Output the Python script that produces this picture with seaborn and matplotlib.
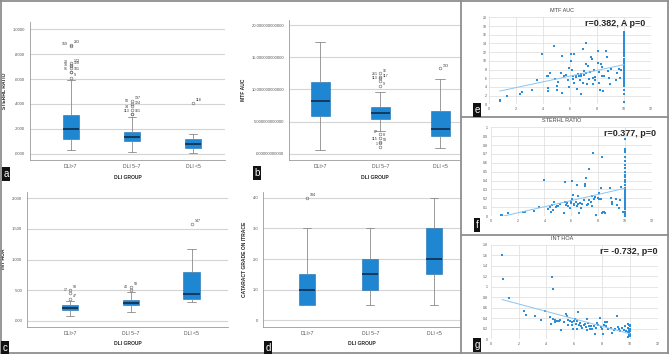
import numpy as np
import matplotlib
matplotlib.use('Agg')
import matplotlib.pyplot as plt
import seaborn as sns
from matplotlib.lines import Line2D

# tamanho em pixels
W, H = 669, 354

grupos = ['DLI>7', 'DLI 5–7', 'DLI <5']

# boxplots (q1, mediana, q3, bigode inferior, bigode superior, outliers)
strehl_q1 = [0.12, 0.104, 0.048]
strehl_med = [0.197, 0.136, 0.078]
strehl_q3 = [0.312, 0.178, 0.12]
strehl_lo = [0.03, 0.018, 0.005]
strehl_hi = [0.59, 0.294, 0.162]
strehl_out = [[(0.872, '283'), (0.862, '159'), (0.725, '172'), (0.715, '20'), (0.705, '128'),
               (0.69, '30'), (0.66, '101'), (0.655, '91'), (0.61, '9')],
              [(0.424, '137'), (0.40, '50'), (0.386, '124'), (0.355, '14'), (0.32, '161'), (0.32, '113')],
              [(0.41, '118')]]

mtf_q1 = [5.8, 5.4, 2.8]
mtf_med = [8.2, 6.3, 3.8]
mtf_q3 = [11.1, 7.2, 6.65]
mtf_lo = [0.6, 3.5, 0.9]
mtf_hi = [17.4, 9.6, 11.6]
mtf_out = [[],
           [(12.5, '16'), (12.0, '261'), (11.7, '117'), (11.3, '113'), (10.5, '9'),
            (3.0, '67'), (2.5, '8'), (1.8, '115'), (1.7, '53'), (1.1, '1')],
           [(13.3, '133')]]

hoa_q1 = [0.174, 0.25, 0.354]
hoa_med = [0.213, 0.294, 0.44]
hoa_q3 = [0.256, 0.338, 0.79]
hoa_lo = [0.07, 0.142, 0.30]
hoa_hi = [0.32, 0.47, 1.177]
hoa_out = [[(0.50, '98'), (0.45, '17'), (0.36, '47')],
           [(0.555, '58'), (0.50, '40')],
           [(1.586, '147')]]

cat_q1 = [0.5, 1.0, 1.5]
cat_med = [1.0, 1.5, 2.0]
cat_q3 = [1.5, 2.0, 3.0]
cat_lo = [0.5, 0.5, 0.5]
cat_hi = [3.0, 3.0, 4.0]
cat_out = [[(4.0, '184')], [], []]

# dispersões (DLI x variável)
e_x = [0.77, 0.79, 1.31, 2.3, 2.44, 3.14, 3.56, 3.88, 4.25, 4.37, 4.5, 4.35, 4.37, 4.81, 4.84, 5.0, 5.0, 5.1,
       5.33, 5.38, 5.4, 5.58, 5.7, 5.83, 5.9, 5.95, 6.07, 6.1, 6.17, 6.2, 6.22, 6.27, 6.32, 6.4, 6.47, 6.54,
       6.59, 6.64, 6.69, 6.74, 6.77, 6.79, 6.84, 6.99, 7.0, 6.99, 7.04, 7.14, 7.16, 7.2, 7.26, 7.36, 7.4, 7.46,
       7.56, 7.6, 7.68, 7.68, 7.75, 7.83, 7.88, 8.05, 8.07, 8.12, 8.17, 8.25, 8.3, 8.35, 8.35, 8.42, 8.54,
       8.69, 8.72, 8.79, 8.89, 8.96, 9.04, 9.41, 9.5, 9.65, 9.68, 9.78,
       10, 10, 10, 10, 10, 10, 10, 10, 10, 10, 10, 10, 10, 10, 10, 10, 10, 10, 10, 10, 10, 10, 10, 10,
       10, 10, 10, 10, 10, 10, 10, 10, 10]
e_y = [0.9, 0.75, 2.0, 2.4, 2.8, 3.3, 5.5, 11.6, 6.6, 6.6, 7.2, 3.8, 3.0, 13.3, 5.8, 3.4, 4.1, 5.1,
       7.2, 11.2, 2.6, 6.4, 6.7, 5.6, 8.3, 4.0, 11.5, 9.9, 7.8, 6.6, 5.9, 4.9, 11.5, 6.2, 6.6, 3.6,
       6.9, 6.4, 6.6, 5.5, 6.6, 6.9, 2.3, 12.6, 7.6, 4.9, 6.7, 14.0, 9.3, 7.3, 4.7, 8.7, 5.8, 7.4,
       10.9, 10.3, 6.0, 4.7, 8.0, 5.6, 6.3, 12.2, 9.6, 7.4, 4.8, 3.2, 9.3, 8.5, 6.5, 3.1, 6.6,
       12.2, 10.8, 7.6, 6.0, 4.6, 8.1, 5.5, 7.2, 8.2, 6.0, 7.8,
       0.6, 2.4, 3.3, 4.1, 4.6, 5.0, 5.4, 5.8, 6.1, 6.5, 6.9, 7.3, 7.7, 8.0, 8.4, 8.8, 9.2, 9.6, 10.0, 10.5,
       11.0, 11.5, 12.0, 12.5, 13.0, 13.4, 13.9, 14.4, 14.8, 15.3, 15.8, 16.2, 16.6]

f_x = [0.79, 0.82, 1.32, 2.38, 2.55, 3.23, 3.62, 3.97, 4.24, 4.44, 4.47, 4.54, 4.62, 4.69, 4.84, 4.94, 5.04,
       5.14, 5.48, 5.51, 5.53, 5.6, 5.68, 5.78, 5.9, 5.96, 5.98, 6.03, 6.08, 6.13, 6.18, 6.23, 6.33, 6.4,
       6.43, 6.48, 6.53, 6.58, 6.65, 6.72, 6.77, 6.95, 7.02, 7.05, 7.1, 7.15, 7.25, 7.32, 7.35, 7.44, 7.52,
       7.57, 7.64, 7.67, 7.79, 7.87, 7.97, 8.04, 8.09, 8.19, 8.24, 8.29, 8.31, 8.39, 8.46, 8.54, 8.88, 8.96,
       9.0, 9.06, 9.33, 9.43, 9.53, 9.6, 9.73, 9.85,
       10, 10, 10, 10, 10, 10, 10, 10, 10, 10, 10, 10, 10, 10, 10, 10, 10, 10, 10, 10, 10, 10, 10, 10,
       10, 10, 10, 10, 10, 10]
f_y = [0.008, 0.015, 0.03, 0.04, 0.04, 0.056, 0.098, 0.41, 0.075, 0.105, 0.04, 0.124, 0.068, 0.158, 0.098,
       0.117, 0.113, 0.13, 0.034, 0.387, 0.158, 0.12, 0.147, 0.109, 0.094, 0.17, 0.143, 0.395, 0.195, 0.24,
       0.12, 0.139, 0.158, 0.346, 0.113, 0.226, 0.132, 0.03, 0.143, 0.094, 0.139, 0.184, 0.357, 0.338, 0.425,
       0.124, 0.132, 0.534, 0.18, 0.154, 0.109, 0.226, 0.714, 0.195, 0.21, 0.015, 0.207, 0.192, 0.256, 0.195,
       0.32, 0.67, 0.038, 0.04, 0.04, 0.034, 0.32, 0.2, 0.13, 0.16, 0.19, 0.124, 0.086, 0.177, 0.33, 0.05,
       0.0, 0.02, 0.05, 0.08, 0.1, 0.12, 0.14, 0.16, 0.18, 0.2, 0.22, 0.24, 0.26, 0.28, 0.3, 0.32, 0.35,
       0.38, 0.41, 0.44, 0.46, 0.5, 0.54, 0.58, 0.62, 0.67, 0.72, 0.74, 0.75, 0.87]

g_x = [0.8, 0.87, 1.33, 2.36, 2.55, 3.15, 3.58, 3.92, 4.25, 4.39, 4.47, 4.32, 4.49, 4.59, 4.63, 4.73, 4.9,
       5.04, 4.97, 5.23, 5.38, 5.47, 5.54, 5.57, 5.69, 5.81, 5.86, 5.93, 6.0, 6.05, 6.13, 6.17, 6.22, 6.29,
       6.33, 6.43, 6.5, 6.57, 6.67, 6.77, 6.84, 6.89, 6.91, 6.98, 7.08, 7.15, 7.22, 7.29, 7.41, 7.49, 7.56,
       7.65, 7.72, 7.85, 7.92, 7.99, 8.04, 8.11, 8.2, 8.3, 8.37, 8.44, 8.66, 8.75, 8.83, 8.9, 9.04, 9.11,
       9.21, 9.29, 9.45, 9.55, 9.64, 9.74,
       9.9, 9.95, 10, 9.9, 10, 9.95, 10, 9.9, 10, 9.95, 10, 9.9, 10, 9.95]
g_y = [1.6, 1.15, 0.79, 0.53, 0.46, 0.44, 0.37, 0.54, 0.43, 1.18, 0.96, 0.29, 0.38, 0.33, 0.36, 0.35, 0.34,
       0.17, 0.36, 0.32, 0.48, 0.45, 0.37, 0.27, 0.35, 0.33, 0.27, 0.2, 0.35, 0.39, 0.3, 0.19, 0.34, 0.51,
       0.27, 0.31, 0.25, 0.22, 0.27, 0.3, 0.23, 0.39, 0.17, 0.31, 0.25, 0.2, 0.25, 0.2, 0.25, 0.11, 0.21,
       0.31, 0.27, 0.41, 0.23, 0.2, 0.11, 0.27, 0.32, 0.25, 0.33, 0.2, 0.22, 0.12, 0.18, 0.2, 0.45, 0.24,
       0.19, 0.16, 0.21, 0.18, 0.25, 0.16,
       0.3, 0.27, 0.25, 0.22, 0.2, 0.18, 0.15, 0.13, 0.1, 0.08, 0.06, 0.05, 0.28, 0.12]

sns.set_style('white')
plt.rcParams['font.family'] = ['Liberation Sans', 'DejaVu Sans']

AZUL_BOX = '#1f87d2'
AZUL_PONTO = '#2a8fdb'


def px(x0, y0, x1, y1):
    return [x0 / W, 1 - y1 / H, (x1 - x0) / W, (y1 - y0) / H]


fig = plt.figure(figsize=(W / 100, H / 100), dpi=100)


def boxplot(ret, q1, med, q3, lo, hi, outs, xlim, ylim, yticks, ytl, ylabel, largura):
    ax = fig.add_axes(px(*ret))
    stats = []
    for i in range(3):
        stats.append({'q1': q1[i], 'med': med[i], 'q3': q3[i], 'whislo': lo[i], 'whishi': hi[i],
                      'fliers': [o[0] for o in outs[i]]})
    ax.bxp(stats, positions=range(3), widths=largura, patch_artist=True,
           boxprops=dict(facecolor=AZUL_BOX, edgecolor='#1a6fb0', linewidth=0.4),
           medianprops=dict(color='#10233f', linewidth=1.1),
           whiskerprops=dict(color='#8a8a8a', linewidth=0.6),
           capprops=dict(color='#8a8a8a', linewidth=0.6),
           flierprops=dict(marker='o', markersize=2, markerfacecolor='none',
                           markeredgecolor='#666666', markeredgewidth=0.4),
           capwidths=largura * 0.5)
    for i in range(3):
        for k, (v, lab) in enumerate(outs[i]):
            dx = 2 if k % 2 == 0 else -2
            ax.annotate(lab, (i, v), xytext=(dx, 0.5), textcoords='offset points',
                        fontsize=2.6, color='#333333', ha='left' if dx > 0 else 'right', va='bottom')
    ax.set_xlim(*xlim)
    ax.set_ylim(*ylim)
    ax.set_yticks(yticks)
    ax.set_yticklabels(ytl)
    ax.set_xticks(range(3))
    ax.set_xticklabels(grupos)
    ax.yaxis.grid(True, color='#d4d4d4', linewidth=0.8)
    ax.set_axisbelow(True)
    for s in ['top', 'right']:
        ax.spines[s].set_visible(False)
    for s in ['left', 'bottom']:
        ax.spines[s].set_color('#9a9a9a')
        ax.spines[s].set_linewidth(0.6)
    ax.tick_params(axis='both', labelsize=3, length=1.5, width=0.4, colors='#555555', pad=2)
    ax.tick_params(axis='x', labelsize=3.6, length=0, pad=3)
    ax.set_xlabel('DLI GROUP', fontsize=3.6, fontweight='bold', labelpad=4)
    ax.set_ylabel(ylabel, fontsize=3.6, fontweight='bold', labelpad=4)
    return ax


boxplot((30, 21.7, 225, 160), strehl_q1, strehl_med, strehl_q3, strehl_lo, strehl_hi, strehl_out,
        (-0.667, 2.52), (-0.05, 1.06), [0, 0.2, 0.4, 0.6, 0.8, 1.0],
        ['.0000', '.2000', '.4000', '.6000', '.8000', '1.0000'], 'STERHL RATIO', 0.27)
boxplot((289, 20, 460, 160), mtf_q1, mtf_med, mtf_q3, mtf_lo, mtf_hi, mtf_out,
        (-0.52, 2.33), (-0.98, 20.8), [0, 5, 10, 15, 20],
        ['.000000000000', '5.000000000000', '10.000000000000', '15.000000000000', '20.000000000000'],
        'MTF AUC', 0.32)
boxplot((27, 191.7, 228, 326.7), hoa_q1, hoa_med, hoa_q3, hoa_lo, hoa_hi, hoa_out,
        (-0.71, 2.6), (-0.098, 2.108), [0, 0.5, 1.0, 1.5, 2.0],
        ['.000', '.500', '1.000', '1.500', '2.000'], 'INT HOA', 0.27)
boxplot((263, 191.7, 460, 326.7), cat_q1, cat_med, cat_q3, cat_lo, cat_hi, cat_out,
        (-0.69, 2.41), (-0.21, 4.2), [0, 1, 2, 3, 4],
        ['0', '1.0', '2.0', '3.0', '4.0'], 'CATARACT GRADE ON ITRACE', 0.25)


def dispersao(ret, x, y, ymax, ystep, titulo, ty):
    ax = fig.add_axes(px(*ret))
    sns.scatterplot(x=x, y=y, ax=ax, s=4, marker='s', color=AZUL_PONTO, linewidth=0)
    sns.regplot(x=np.array(x), y=np.array(y), ax=ax, scatter=False, ci=None,
                line_kws=dict(color='#8dc4ee', linewidth=0.7))
    ax.set_xlim(0, 12)
    ax.set_ylim(0, ymax)
    ax.set_xticks(range(0, 13, 2))
    yt = np.round(np.arange(0, ymax + ystep / 2, ystep), 2)
    ax.set_yticks(yt)
    ax.set_yticklabels(['%g' % v for v in yt])
    ax.grid(True, color='#dcdcdc', linewidth=0.5)
    for s in ax.spines.values():
        s.set_visible(False)
    ax.tick_params(labelsize=2.6, length=0, pad=2, colors='#555555')
    ax.set_xlabel('')
    ax.set_ylabel('')
    fig.text(562 / W, 1 - ty / H, titulo, fontsize=4, color='#444444', ha='center', va='center')
    return ax


ax_e = dispersao((489.3, 17.3, 651, 104.3), e_x, e_y, 20, 2, 'MTF AUC', 10)
ax_f = dispersao((490.7, 127.3, 652, 216), f_x, f_y, 1, 0.1, 'STERHL RATIO', 121)
ax_g = dispersao((490.8, 244.7, 657.7, 339.3), g_x, g_y, 1.8, 0.2, 'INT HOA', 239)

fig.text(645 / W, 1 - 24 / H, 'r=0.382, A p=0', fontsize=6.5, fontweight='bold', ha='right', va='center')
fig.text(656 / W, 1 - 133 / H, 'r=0.377, p=0', fontsize=6.5, fontweight='bold', ha='right', va='center')
fig.text(657 / W, 1 - 252 / H, 'r= -0.732, p=0', fontsize=6.5, fontweight='bold', ha='right', va='center')

# molduras
cinza = '#8f8f8f'
linhas = [((0, 0.8), (669, 0.8)), ((0.8, 0), (0.8, 354)), ((0, 353.2), (669, 353.2)),
          ((668.2, 0), (668.2, 354)), ((461, 0), (461, 354)),
          ((461, 117), (669, 117)), ((461, 235), (669, 235))]
for (x0, y0), (x1, y1) in linhas:
    fig.add_artist(Line2D([x0 / W, x1 / W], [1 - y0 / H, 1 - y1 / H], transform=fig.transFigure,
                          color=cinza, linewidth=1.3))

# letras dos paineis
letras = [('a', 6, 174), ('b', 257, 173), ('c', 5, 348), ('d', 268, 348),
          ('e', 477, 110), ('f', 477, 225), ('g', 477, 345)]
for l, x, y in letras:
    fig.text(x / W, 1 - y / H, l, color='white', fontsize=7, ha='center', va='center',
             bbox=dict(facecolor='#111111', edgecolor='none', pad=1.2))

plt.savefig('out.png', dpi=100)
